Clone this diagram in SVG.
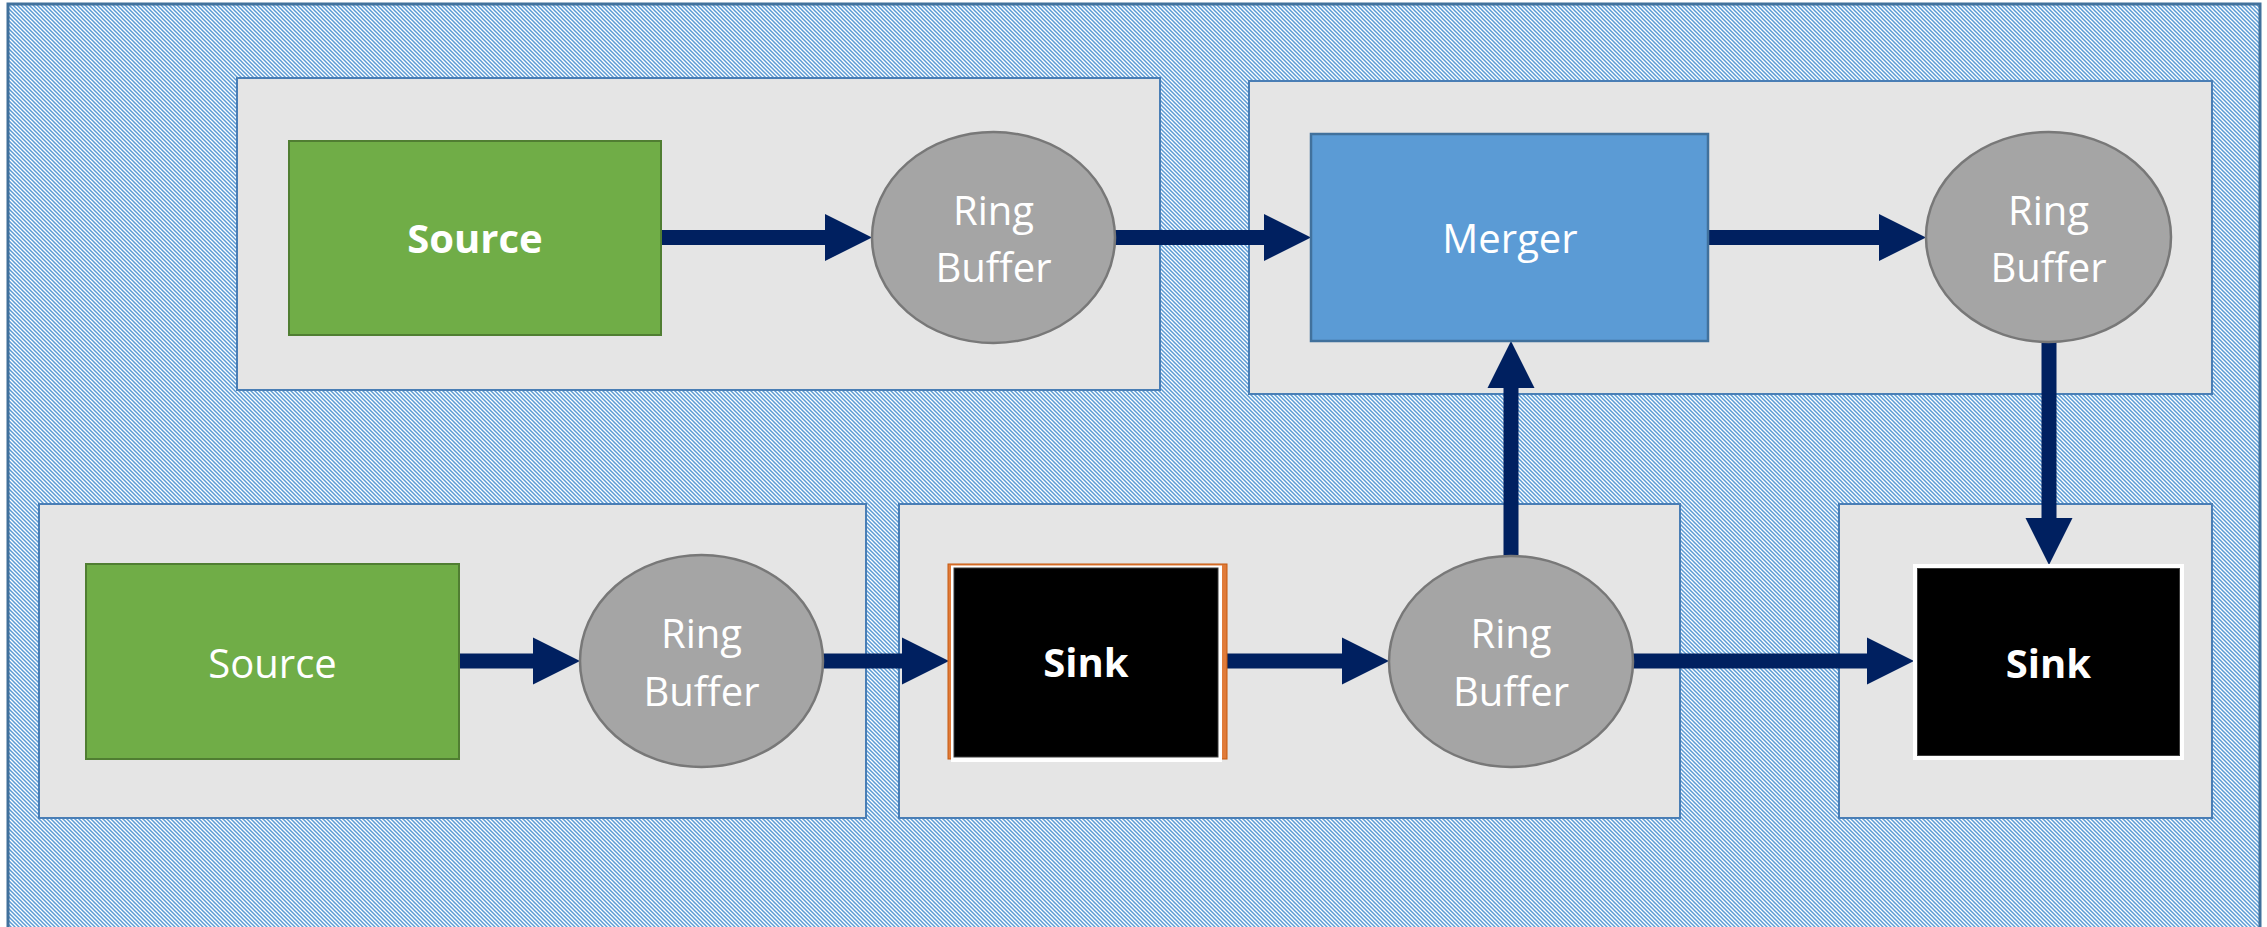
<svg xmlns="http://www.w3.org/2000/svg" width="2267" height="927" viewBox="0 0 2267 927">
<style>
.grp{fill:#E5E5E5;stroke:#4A7EB5;stroke-width:2}
.src{fill:#70AD47;stroke:#507E32;stroke-width:2}
.rb{fill:#A5A5A5;stroke:#787878;stroke-width:2.5}
.mrg{fill:#5B9BD5;stroke:#41719C;stroke-width:2.5}
.t{font-family:"Open Sans","Noto Sans",sans-serif;font-size:40px;fill:#FFFFFF;text-anchor:middle}
.b{font-weight:bold}
.ln{stroke:#002060;stroke-width:15;fill:none}
.hd{fill:#002060}
</style>
<defs>
<pattern id="hatch" patternUnits="userSpaceOnUse" width="4" height="4">
<rect width="4" height="4" fill="#FFFFFF"/>
<path d="M-1,-1 L5,5 M-1,3 L1,5 M3,-1 L5,1" stroke="#5B9BD5" stroke-width="1.5"/>
</pattern>
</defs>
<rect x="8" y="4" width="2252" height="940" fill="url(#hatch)" stroke="#41719C" stroke-width="3"/>
<g id="group-top-left"><rect class="grp" x="237" y="78" width="923" height="312"/></g>
<g id="group-top-right"><rect class="grp" x="1249" y="81" width="963" height="313"/></g>
<g id="group-bottom-left"><rect class="grp" x="39" y="504" width="827" height="314"/></g>
<g id="group-bottom-middle"><rect class="grp" x="899" y="504" width="781" height="314"/></g>
<g id="group-bottom-right"><rect class="grp" x="1839" y="504" width="373" height="314"/></g>
<g id="connectors">
<line class="ln" x1="661" y1="237.5" x2="826" y2="237.5"/><polygon class="hd" points="825,214 872,237.5 825,261"/>
<line class="ln" x1="1115" y1="237.5" x2="1265" y2="237.5"/><polygon class="hd" points="1264,214 1311,237.5 1264,261"/>
<line class="ln" x1="1708" y1="237.5" x2="1880" y2="237.5"/><polygon class="hd" points="1879,214 1926,237.5 1879,261"/>
<line class="ln" x1="2049" y1="342" x2="2049" y2="519"/><polygon class="hd" points="2025.5,518 2049,565 2072.5,518"/>
<line class="ln" x1="1511" y1="556" x2="1511" y2="386"/><polygon class="hd" points="1487.5,388 1511,341 1534.5,388"/>
<line class="ln" x1="459" y1="661" x2="534" y2="661"/><polygon class="hd" points="533,637.5 580,661 533,684.5"/>
<line class="ln" x1="823" y1="661" x2="903" y2="661"/><polygon class="hd" points="902,637.5 949,661 902,684.5"/>
<line class="ln" x1="1227" y1="661" x2="1343" y2="661"/><polygon class="hd" points="1342,637.5 1389,661 1342,684.5"/>
<line class="ln" x1="1633" y1="661" x2="1868" y2="661"/><polygon class="hd" points="1867,637.5 1914,661 1867,684.5"/>
</g>
<g id="source-top"><rect class="src" x="289" y="141" width="372" height="194"/><text class="t b" x="475" y="253">Source</text></g>
<g id="ringbuffer-top-left"><ellipse class="rb" cx="993.5" cy="237.5" rx="121.5" ry="105.5"/><text class="t" x="993.5" y="225">Ring</text><text class="t" x="993.5" y="282">Buffer</text></g>
<g id="merger"><rect class="mrg" x="1311" y="134" width="397" height="207"/><text class="t" x="1510" y="253">Merger</text></g>
<g id="ringbuffer-top-right"><ellipse class="rb" cx="2048.5" cy="237" rx="122.5" ry="105"/><text class="t" x="2048.5" y="225">Ring</text><text class="t" x="2048.5" y="282">Buffer</text></g>
<g id="source-bottom"><rect class="src" x="86" y="564" width="373" height="195"/><text class="t" x="272.5" y="678">Source</text></g>
<g id="ringbuffer-bottom-left"><ellipse class="rb" cx="701.5" cy="661" rx="121.5" ry="106"/><text class="t" x="701.5" y="648">Ring</text><text class="t" x="701.5" y="706">Buffer</text></g>
<g id="sink-middle">
<rect x="948" y="564" width="279" height="195" fill="#E07B39" stroke="#C55A11" stroke-width="1"/>
<rect x="951" y="565.5" width="271" height="196.5" fill="#FFFFFF"/>
<rect x="954" y="568" width="264" height="189" fill="#000000" stroke="#3A3A3A" stroke-width="1"/>
<text class="t b" x="1086" y="677">Sink</text>
</g>
<g id="ringbuffer-bottom-middle"><ellipse class="rb" cx="1511" cy="661.5" rx="122" ry="105.5"/><text class="t" x="1511" y="648">Ring</text><text class="t" x="1511" y="706">Buffer</text></g>
<g id="sink-right">
<rect x="1915" y="566" width="267" height="192" fill="#000000" stroke="#FFFFFF" stroke-width="4"/>
<rect x="1917.5" y="568.5" width="262" height="187" fill="none" stroke="#3A3A3A" stroke-width="1"/>
<text class="t b" x="2048.5" y="678">Sink</text>
</g>
</svg>
